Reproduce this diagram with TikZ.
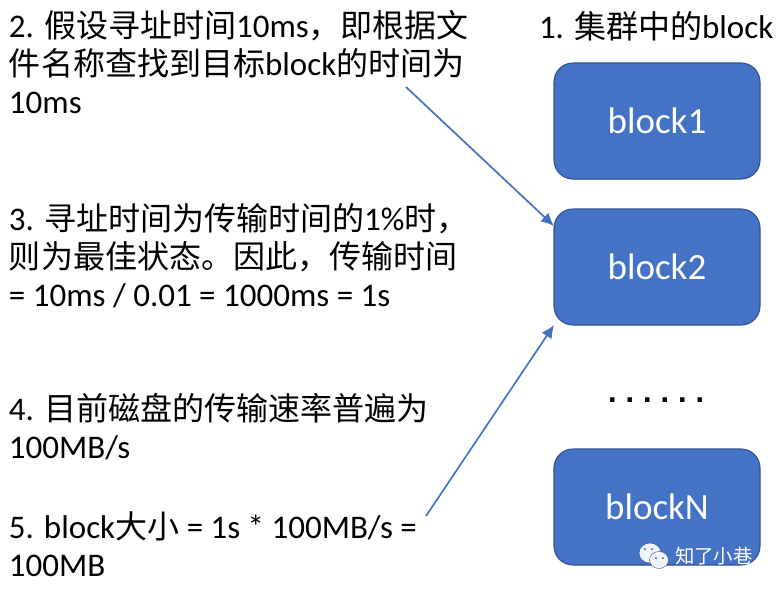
\documentclass[tikz,border=0pt]{standalone}
\usepackage{fontspec}
\setmainfont{Carlito}
\newfontfamily\cjk[Scale=0.97]{Noto Sans CJK SC}
\newfontfamily\dotfont{DejaVu Sans}
\newcommand{\zh}[1]{{\cjk #1}}
\usetikzlibrary{positioning,arrows.meta}
\definecolor{blockfill}{RGB}{68,114,196}
\definecolor{blockline}{RGB}{47,82,143}
\tikzset{
    every node/.style={inner sep=0pt, outer sep=0pt},
    blockbox/.style={draw=blockline, fill=blockfill, rounded corners=19pt, line width=1.1pt, minimum width=206pt, minimum height=116pt, text=white, font=\fontsize{37}{37}\selectfont},
    note/.style={anchor=north west, align=left, font=\fontsize{33}{38}\selectfont},
    link/.style={draw=blockfill, line width=1.7pt, -{Latex[length=13pt,width=12pt]}},
    bubble/.style={fill=white!92!blockfill, draw=blockfill!70!black, line width=0.4pt}
}
\begin{document}
\begin{tikzpicture}[x=1pt,y=-1pt]
    \useasboundingbox (0,0) rectangle (776,590);
    \node (title) [anchor=west, font=\fontsize{33}{38}\selectfont] at (539,26) {1. \zh{集群中的}block};
    \node (block1) [blockbox] at (657,121) {block1};
    \node (block2) [blockbox] at (657,267) {block2};
    \node (blockN) [blockbox] at (657,507) {blockN};
    \node (dots) at (656,400) {\dotfont\bfseries\fontsize{25}{25}\selectfont .\hspace{8pt}.\hspace{8pt}.\hspace{8pt}.\hspace{8pt}.\hspace{8pt}.};
    \node (seek) [note] at (9,10) {2. \zh{假设寻址时间}10ms\zh{，即根据文}\\\zh{件名称查找到目标}block\zh{的时间为}\\10ms};
    \node (best) [note] at (9,203) {3. \zh{寻址时间为传输时间的}1\%\zh{时，}\\\zh{则为最佳状态。因此，传输时间}\\= 10ms / 0.01 = 1000ms = 1s};
    \node (rate) [note] at (9,393) {4. \zh{目前磁盘的传输速率普遍为}\\100MB/s};
    \node (size) [note] at (9,512) {5. block\zh{大小} = 1s * 100MB/s =\\100MB};
    \coordinate (seekend) at (406,87);
    \coordinate (sizeend) at (426,516);
    \draw [link] (seekend) -- ([yshift=-17pt]block2.north west);
    \draw [link] (sizeend) -- (block2.south west);
    % watermark
    \fill [bubble] (650,553) ellipse (11 and 10);
    \fill [bubble] (659,560) ellipse (9.5 and 8.5);
    \foreach \eyex/\eyey in {645/549,652/549,656/558,663/558}
        \fill [blockline] (\eyex,\eyey) circle (1);
    \node (mark) [anchor=west, text=white] at (675,556) {\fontsize{20}{20}\selectfont\zh{知了小巷}};
\end{tikzpicture}
\end{document}
